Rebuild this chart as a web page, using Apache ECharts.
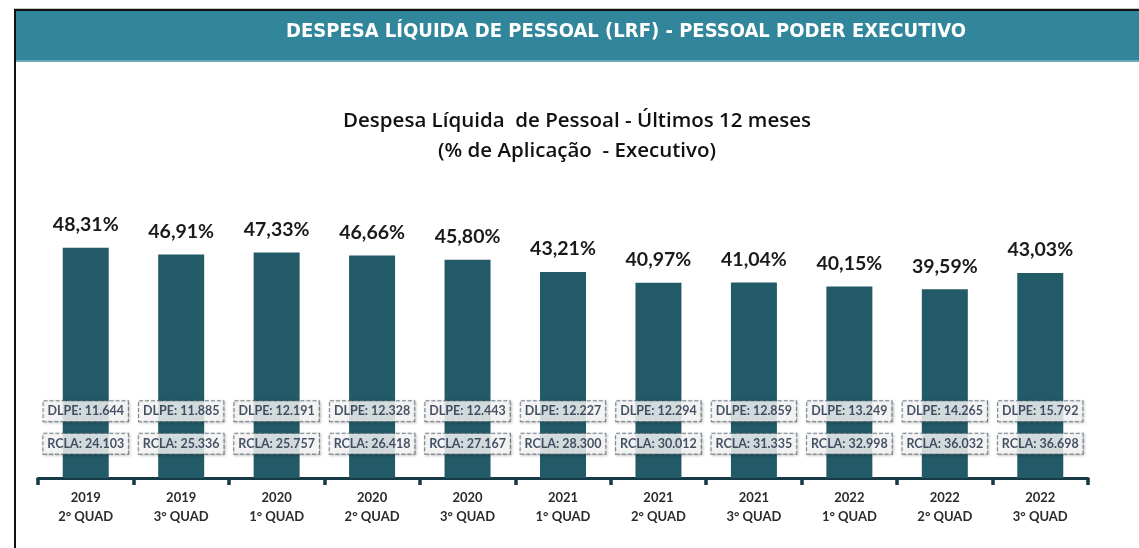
<!DOCTYPE html>
<html><head><meta charset="utf-8">
<script src="https://cdn.jsdelivr.net/npm/echarts@6/dist/echarts.min.js"></script>
<style>html,body{margin:0;padding:0;background:#fff}#c{width:1139px;height:548px}</style>
</head><body><div id="c"></div>
<script>
const years = ['2019','2019','2020','2020','2020','2021','2021','2021','2022','2022','2022'];
const quads = ['2°','3°','1°','2°','3°','1°','2°','3°','1°','2°','3°'];
const percent = [48.31, 46.91, 47.33, 46.66, 45.80, 43.21, 40.97, 41.04, 40.15, 39.59, 43.03];
const dlpe = ['11.644','11.885','12.191','12.328','12.443','12.227','12.294','12.859','13.249','14.265','15.792'];
const rcla = ['24.103','25.336','25.757','26.418','27.167','28.300','30.012','31.335','32.998','36.032','36.698'];

const categories = years.map((y, i) => y + '\n' + quads[i] + ' QUAD');
const DLPE_LEVEL = 14.0, RCLA_LEVEL = 7.2;

const boxLabel = {
  show: true, position: 'inside',
  backgroundColor: '#fff', borderColor: '#5f6e75', borderWidth: 1, borderType: [4, 2],
  padding: [4, 4, 3, 4], color: '#1a2740', fontFamily: 'Lato', fontWeight: 'bold', fontSize: 12.5,
  shadowColor: 'rgba(0,0,0,0.3)', shadowBlur: 3, shadowOffsetX: 1, shadowOffsetY: 1
};

const chart = echarts.init(document.getElementById('c'));
chart.setOption({
  animation: false,
  backgroundColor: '#fff',
  graphic: [
    {type: 'rect', shape: {x: 14, y: 8, width: 1125, height: 1}, style: {fill: '#c8c8c8'}},
    {type: 'rect', shape: {x: 16, y: 11, width: 1123, height: 50}, style: {fill: '#31869b'}},
    {type: 'rect', shape: {x: 16, y: 60, width: 1123, height: 2}, style: {fill: '#6aa9b8'}},
    {type: 'rect', shape: {x: 14, y: 9, width: 1125, height: 2}, style: {fill: '#111'}},
    {type: 'rect', shape: {x: 14, y: 9, width: 2, height: 539}, style: {fill: '#111'}},
    {type: 'text', x: 626, y: 22, style: {text: 'DESPESA LÍQUIDA DE PESSOAL (LRF) - PESSOAL PODER EXECUTIVO',
      fill: '#fff', font: 'bold 20px "DejaVu Sans Condensed"', align: 'center'}},
    {type: 'text', x: 577, y: 106, style: {text: 'Despesa Líquida  de Pessoal - Últimos 12 meses\n(% de Aplicação  - Executivo)',
      fill: '#111', font: '600 20.5px "Open Sans"', align: 'center', lineHeight: 30}}
  ],
  grid: {left: 38, right: 51, top: 192, bottom: 70},
  xAxis: {
    type: 'category', data: categories,
    axisLine: {lineStyle: {color: '#173a47', width: 3}},
    axisTick: {show: true, length: 7, lineStyle: {color: '#173a47', width: 3.5}},
    axisLabel: {color: '#2b2b2b', fontFamily: 'Lato', fontWeight: 'bold', fontSize: 13, lineHeight: 19, margin: 10}
  },
  yAxis: {type: 'value', min: 0, max: 60, show: false, splitLine: {show: false}},
  series: [
    {
      type: 'bar', data: percent, barWidth: 46,
      itemStyle: {color: '#235a68'},
      label: {show: true, position: 'top', distance: 13, color: '#1a1a1a', fontFamily: 'Lato', fontWeight: 'bold', fontSize: 19.5,
        formatter: p => p.value.toFixed(2).replace('.', ',') + '%'}
    },
    {
      type: 'scatter', symbolSize: 0, silent: true, z: 5,
      data: dlpe.map(() => DLPE_LEVEL),
      label: Object.assign({}, boxLabel, {formatter: p => 'DLPE: ' + dlpe[p.dataIndex]})
    },
    {
      type: 'scatter', symbolSize: 0, silent: true, z: 5,
      data: rcla.map(() => RCLA_LEVEL),
      label: Object.assign({}, boxLabel, {formatter: p => 'RCLA: ' + rcla[p.dataIndex]})
    }
  ]
});
</script></body></html>
